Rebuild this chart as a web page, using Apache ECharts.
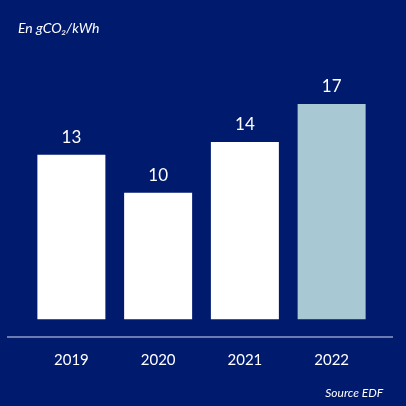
<!DOCTYPE html>
<html>
<head>
<meta charset="utf-8">
<script src="https://cdn.jsdelivr.net/npm/echarts@6/dist/echarts.min.js"></script>
<style>
  html, body { margin: 0; padding: 0; background: #001a6e; }
  #chart { width: 406px; height: 406px; }
</style>
</head>
<body>
<div id="chart"></div>
<script>
  var years = ['2019', '2020', '2021', '2022'];
  var values = [13, 10, 14, 17];
  var barColors = ['#ffffff', '#ffffff', '#ffffff', '#a8c8d4'];

  var chart = echarts.init(document.getElementById('chart'));
  chart.setOption({
    backgroundColor: '#001a6e',
    textStyle: { fontFamily: 'Lato' },
    title: [{
      text: 'En gCO₂/kWh',
      left: 13, top: 16,
      textStyle: { color: '#ffffff', fontSize: 14, fontStyle: 'italic', fontWeight: 'normal', fontFamily: 'Lato' }
    }, {
      text: 'Source EDF',
      right: 18, top: 382,
      textStyle: { color: '#ffffff', fontSize: 12, fontStyle: 'italic', fontWeight: 'normal', fontFamily: 'Lato' }
    }],
    grid: { left: 28, right: 31, top: 66, bottom: 69 },
    xAxis: {
      type: 'category',
      data: years,
      axisLine: { show: false },
      axisTick: { show: false },
      axisLabel: { color: '#ffffff', fontSize: 15, margin: 16 }
    },
    yAxis: {
      type: 'value',
      min: -1.4,
      max: 20,
      show: false,
      splitLine: { show: false }
    },
    graphic: [{
      type: 'line',
      shape: { x1: 7, y1: 337, x2: 393, y2: 337 },
      style: { stroke: '#8f9bc8', lineWidth: 1.5 }
    }],
    series: [{
      type: 'bar',
      barWidth: 68,
      data: values.map(function (v, i) {
        return { value: v, itemStyle: { color: barColors[i] } };
      }),
      label: {
        show: true,
        position: 'top',
        distance: 9,
        color: '#ffffff',
        fontSize: 17
      },
      silent: true,
      animation: false
    }]
  });
</script>
</body>
</html>
